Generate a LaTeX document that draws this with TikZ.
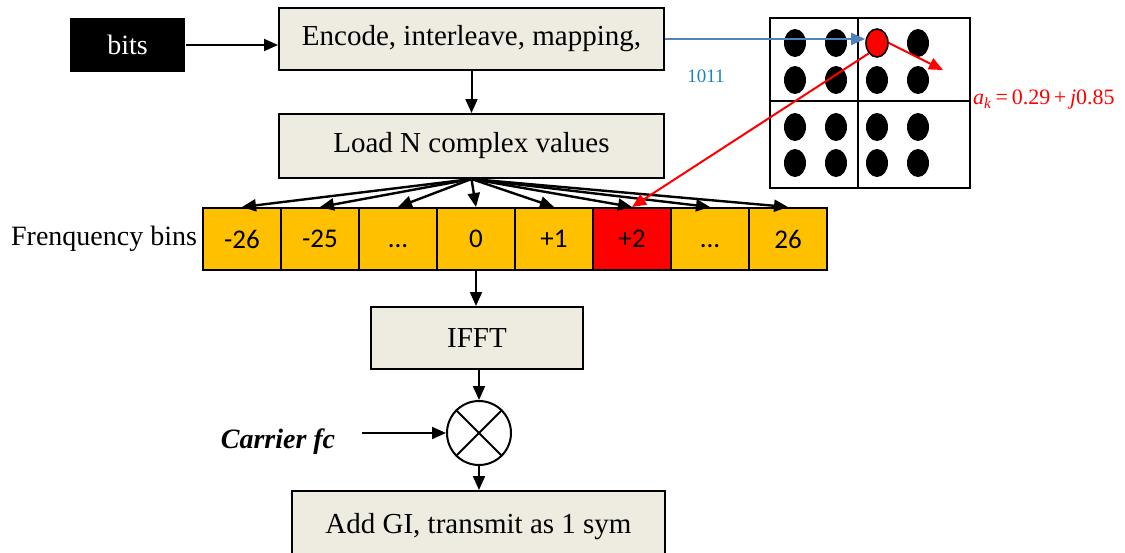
\documentclass[tikz,border=0pt]{standalone}
\usepackage{fontspec}
\setmainfont{Liberation Serif}
\newfontfamily\binfont{Carlito}
\usetikzlibrary{arrows.meta,shapes.geometric}
\definecolor{boxfill}{RGB}{238,236,225}
\definecolor{binfill}{RGB}{255,192,0}
\definecolor{mapblue}{RGB}{79,129,189}
\definecolor{bitsblue}{RGB}{31,130,192}
\newcommand{\bindots}{\vphantom{0}...}

\begin{document}
\begin{tikzpicture}[x=0.5pt,y=-0.5pt,line width=1pt,
  >={Triangle[length=7pt,width=6pt]},
  blk/.style={draw,fill=boxfill,minimum height=31pt,font=\fontsize{14.5}{17}\selectfont},
  bin/.style={draw,fill=binfill,minimum width=39pt,minimum height=31pt,font=\binfont\fontsize{13.5}{16}\selectfont},
  dot/.style={fill=black,ellipse,minimum width=11pt,minimum height=14pt,inner sep=0pt}]
\useasboundingbox (0,0) rectangle (1125,552);
% blocks
\node[fill=black,text=white,minimum width=57.5pt,minimum height=27pt,font=\fontsize{14}{17}\selectfont] (bits) at (127.5,45) {bits};
\node[blk,minimum width=192.5pt] (enc) at (471.5,39) {Encode, interleave, mapping,};
\node[blk,minimum width=192.5pt,minimum height=32pt] (load) at (471.5,146) {Load N complex values};
\foreach \v [count=\i] in {-26,-25,\bindots,0,+1,+2,\bindots,26}
  \node[bin] (bin\i) at (164+78*\i,239) {\v};
\node[bin,fill=red] at (bin6) {+2};
\node[anchor=east,inner sep=2pt,font=\fontsize{14}{17}\selectfont] (binlbl) at (bin1.west) {Frenquency bins};
\node[blk,minimum width=106pt] (ifft) at (477,338) {IFFT};
\node[draw,fill=white,circle,minimum size=32pt,inner sep=0pt] (mix) at (479,433) {};
\draw (mix.north west) -- (mix.south east) (mix.north east) -- (mix.south west);
\node[font=\bfseries\itshape\fontsize{14}{17}\selectfont] (carrier) at (278,442) {Carrier fc};
\coordinate (carrierin) at (362,433);
\node[blk,minimum width=186.5pt,minimum height=36pt] (gi) at (478.5,527) {\raisebox{4pt}{Add GI, transmit as 1 sym}};
% connectors
\draw[->] (bits.east) -- (bits.east -| enc.west);
\draw[->] (enc.south -| load.north) -- (load.north);
\foreach \i in {1,...,8}
  \draw[->,line width=1.2pt] (load.south) -- (bin\i.north);
\draw[->] (bin4.south) -- (bin4.south |- ifft.north);
\draw[->] (ifft.south -| mix.north) -- (mix.north);
\draw[->] (carrierin) -- (mix.west);
\draw[->] (mix.south) -- (mix.south |- gi.north);
% constellation
\draw (770,18) rectangle (970,188);
\draw (858,18) -- (858,188) (770,101) -- (970,101);
\foreach \cx in {795,836,877,918}
  \foreach \cy in {43,80,127,163}
    \node[dot] at (\cx,\cy) {};
\node[dot,fill=red,draw=black,line width=0.8pt] (pt) at (877,43) {};
\coordinate (akpt) at (943,70);
\draw[->,mapblue] (enc.east) -- (enc.east -| pt.west);
\node[text=bitsblue,font=\fontsize{9.5}{11}\selectfont] (code) at (706,76) {1011};
\draw[->,red] (pt.east) -- (akpt);
\draw[->,red] (pt.south west) -- (bin6.north);
\node[anchor=west,inner sep=0pt,text=red,font=\fontsize{11}{13}\selectfont] (ak) at (972,100)
  {\textit{a}\textsubscript{\textit{k}}\,=\,0.29\,+\,\textit{j}0.85};
\end{tikzpicture}
\end{document}
